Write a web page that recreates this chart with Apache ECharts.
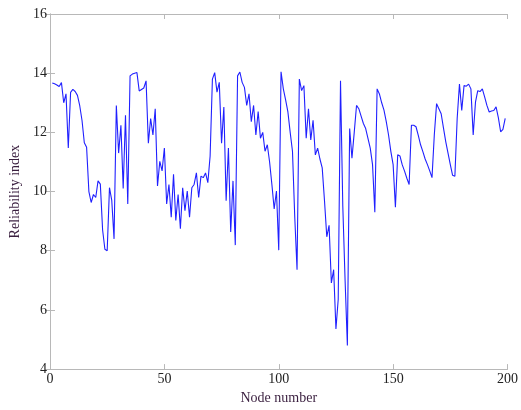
<!DOCTYPE html>
<html>
<head>
<meta charset="utf-8">
<script src="https://cdn.jsdelivr.net/npm/echarts@6/dist/echarts.min.js"></script>
<style>html,body{margin:0;padding:0;background:#fff}#c{width:521px;height:410px}</style>
</head>
<body>
<div id="c"></div>
<script>
const xTicks = [0, 50, 100, 150, 200];
const yTicks = [4, 6, 8, 10, 12, 14, 16];
const firstNode = 1;
const reliability = [
  13.67, 13.64, 13.60, 13.55, 13.68, 13.00, 13.30, 11.47, 13.35, 13.45,
  13.38, 13.25, 12.90, 12.40, 11.65, 11.50, 10.00, 9.63, 9.90, 9.80,
  10.36, 10.25, 8.70, 8.05, 8.00, 10.13, 9.70, 8.40, 12.91, 11.30,
  12.24, 10.10, 12.58, 9.58, 13.91, 13.97, 14.00, 14.02, 13.40, 13.45,
  13.50, 13.74, 11.63, 12.47, 11.91, 12.80, 10.19, 11.02, 10.70, 11.47,
  9.58, 10.24, 9.13, 10.58, 9.02, 9.90, 8.74, 10.13, 9.35, 10.02,
  9.13, 10.13, 10.24, 10.63, 9.80, 10.52, 10.47, 10.63, 10.30, 11.20,
  13.80, 14.02, 13.36, 13.69, 11.63, 12.86, 9.69, 11.47, 8.63, 10.36,
  8.19, 13.91, 14.04, 13.69, 13.52, 12.91, 13.30, 12.36, 12.91, 11.91,
  12.70, 11.80, 12.00, 11.36, 11.58, 11.00, 10.24, 9.41, 10.02, 8.02,
  14.05, 13.47, 13.10, 12.69, 12.00, 11.36, 9.13, 7.36, 13.80, 13.41,
  13.58, 11.80, 12.80, 11.74, 12.41, 11.24, 11.47, 11.10, 10.80, 9.69,
  8.47, 8.86, 6.91, 7.36, 5.36, 6.36, 13.74, 9.50, 7.00, 4.80,
  12.13, 11.13, 12.00, 12.91, 12.80, 12.55, 12.30, 12.13, 11.80, 11.47,
  10.91, 9.30, 13.47, 13.30, 13.00, 12.75, 12.36, 11.91, 11.36, 10.91,
  9.47, 11.24, 11.20, 10.90, 10.69, 10.45, 10.24, 12.24, 12.24, 12.19,
  11.90, 11.58, 11.35, 11.10, 10.91, 10.70, 10.47, 11.91, 12.97, 12.80,
  12.63, 12.15, 11.69, 11.30, 10.91, 10.55, 10.52, 12.47, 13.63, 12.74,
  13.58, 13.56, 13.63, 13.47, 11.91, 13.02, 13.41, 13.38, 13.47, 13.20,
  12.91, 12.69, 12.72, 12.74, 12.86, 12.50, 12.02, 12.10, 12.47
];

const points = reliability.map((v, i) => [firstNode + i, v]);
const serif = '"Liberation Serif", "DejaVu Serif", serif';
const gray = '#b8b8b8';

const chart = echarts.init(document.getElementById('c'), null, {renderer: 'canvas'});
chart.setOption({
  animation: false,
  backgroundColor: '#fff',
  grid: {left: 50, right: 12, top: 14, bottom: 36, containLabel: false},
  xAxis: [{
    type: 'value', min: xTicks[0], max: xTicks[xTicks.length - 1], interval: 50,
    name: 'Node number', nameLocation: 'middle', nameGap: 20,
    nameTextStyle: {color: '#3a1f3f', fontFamily: serif, fontSize: 14},
    axisLine: {show: true, lineStyle: {color: gray, width: 1}},
    axisTick: {show: true, inside: true, length: 5, lineStyle: {color: gray}},
    axisLabel: {color: '#222', fontFamily: serif, fontSize: 14, margin: 3},
    splitLine: {show: false}
  }, {
    type: 'value', position: 'top', min: xTicks[0], max: xTicks[xTicks.length - 1], interval: 50,
    axisLine: {show: true, lineStyle: {color: gray, width: 1}},
    axisTick: {show: true, inside: true, length: 5, lineStyle: {color: gray}},
    axisLabel: {show: false}, splitLine: {show: false}
  }],
  yAxis: [{
    type: 'value', min: yTicks[0], max: yTicks[yTicks.length - 1], interval: 2,
    name: 'Reliability index', nameLocation: 'middle', nameGap: 28, nameRotate: 90,
    nameTextStyle: {color: '#3a1f3f', fontFamily: serif, fontSize: 14},
    axisLine: {show: true, lineStyle: {color: gray, width: 1}},
    axisTick: {show: true, inside: true, length: 5, lineStyle: {color: gray}},
    axisLabel: {color: '#222', fontFamily: serif, fontSize: 14, margin: 3},
    splitLine: {show: false}
  }, {
    type: 'value', position: 'right', min: yTicks[0], max: yTicks[yTicks.length - 1], interval: 2,
    axisLine: {show: true, lineStyle: {color: gray, width: 1}},
    axisTick: {show: true, inside: true, length: 5, lineStyle: {color: gray}},
    axisLabel: {show: false}, splitLine: {show: false}
  }],
  series: [{
    type: 'line', data: points, xAxisIndex: 0, yAxisIndex: 0,
    showSymbol: false, symbol: 'none',
    lineStyle: {color: '#2020ff', width: 1.1},
    z: 5
  }]
});
</script>
</body>
</html>
